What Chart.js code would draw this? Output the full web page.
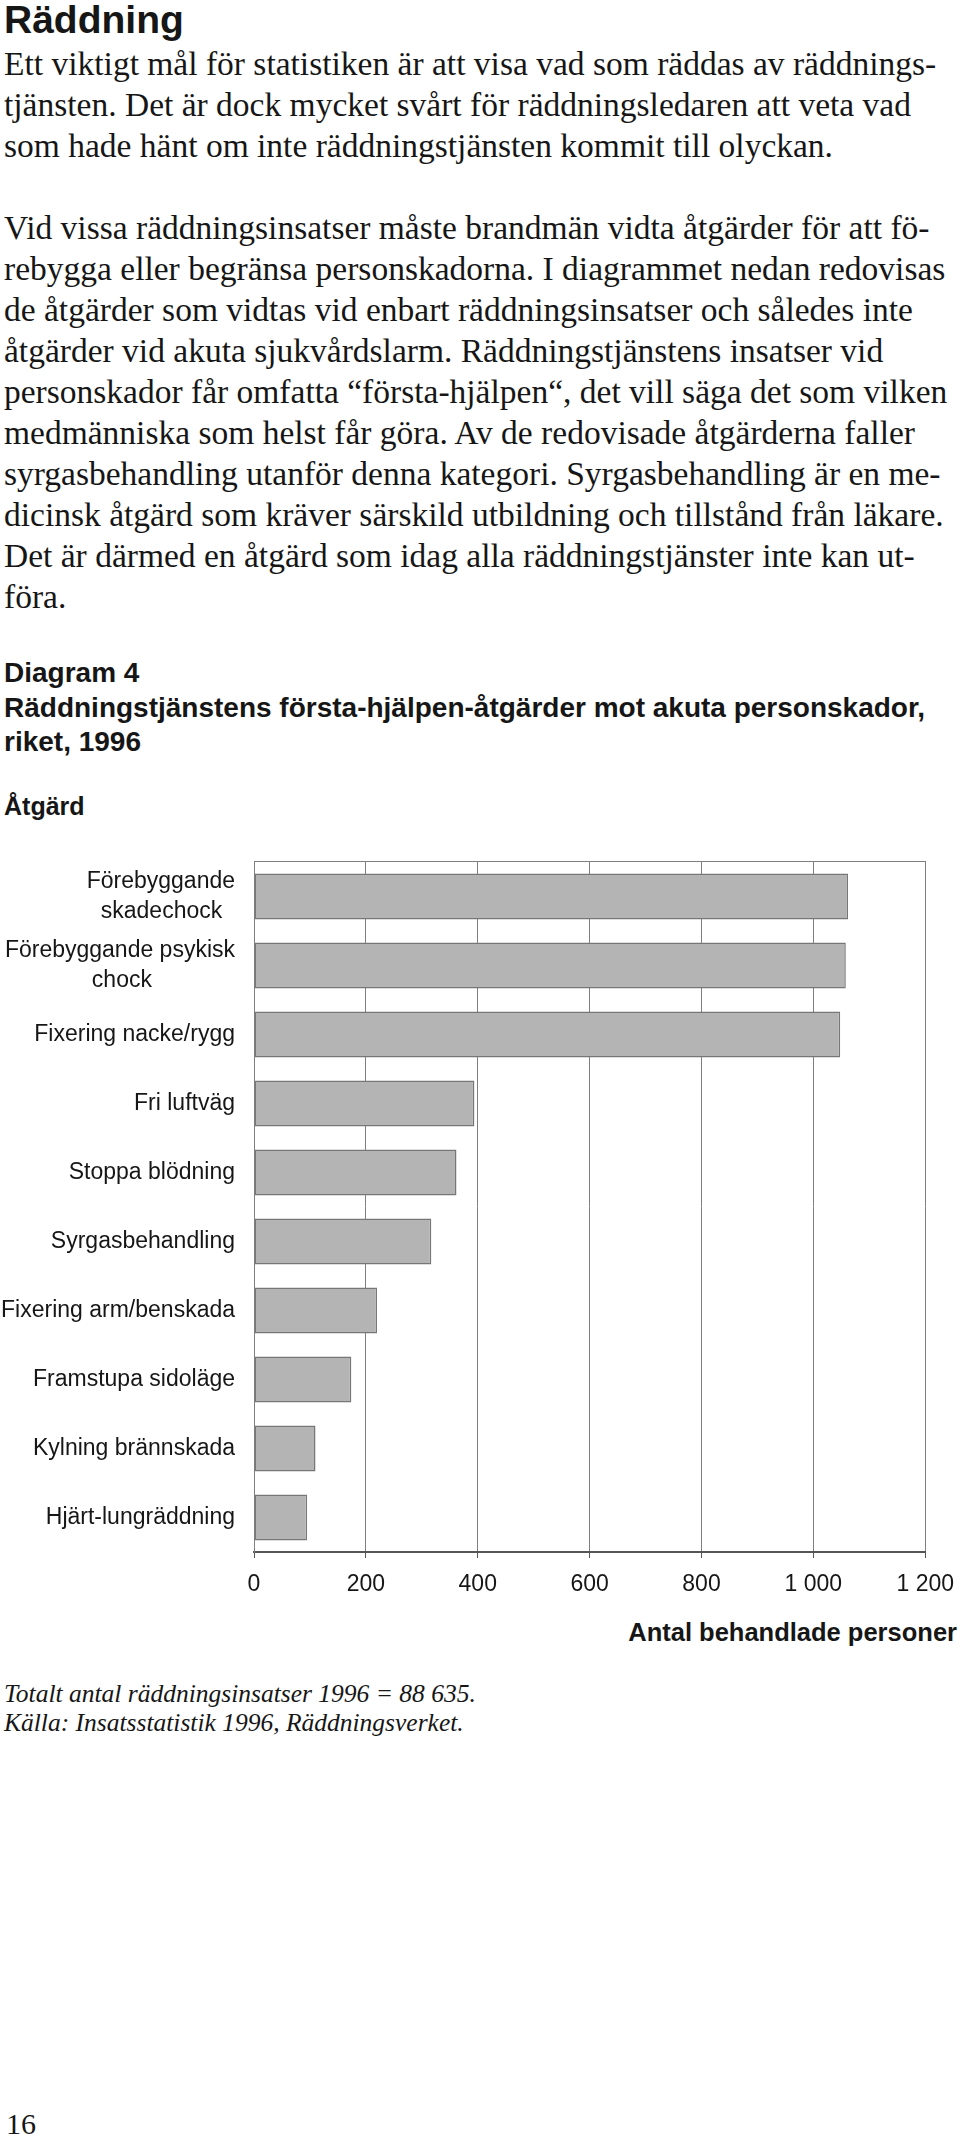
<!DOCTYPE html>
<html lang="sv">
<head>
<meta charset="utf-8">
<script src="https://cdn.jsdelivr.net/npm/chart.js@4.4.0/dist/chart.umd.min.js"></script>
<style>
  html, body { margin: 0; padding: 0; background: #fff; }
  body { width: 960px; height: 2137px; position: relative; overflow: hidden; color: #161616; }
  .sans { font-family: "Liberation Sans", Arial, sans-serif; }
  .serif { font-family: "Liberation Serif", "Times New Roman", serif; }
  #head { position: absolute; left: 4px; top: 0; font-weight: bold; font-size: 39px; line-height: 40px; }
  #text { position: absolute; left: 4px; top: 43px; font-size: 33.5px; line-height: 41px; white-space: nowrap; }
  #caption { position: absolute; left: 4px; top: 656px; font-weight: bold; font-size: 28px; line-height: 34.5px; white-space: nowrap; }
  #ylabel { position: absolute; left: 4px; top: 791px; font-weight: bold; font-size: 25px; line-height: 30px; }
  #chart { position: absolute; left: 0; top: 828px; }
  #xlabel { position: absolute; right: 3px; top: 1617px; font-weight: bold; font-size: 25.5px; line-height: 30px; }
  #notes { position: absolute; left: 4px; top: 1679px; font-style: italic; font-size: 25.5px; line-height: 29px; white-space: nowrap; }
  #page { position: absolute; left: 6px; top: 2106px; font-size: 30px; line-height: 36px; }
</style>
</head>
<body>
<div id="head" class="sans">Räddning</div>
<div id="text" class="serif">
  <div>Ett viktigt mål för statistiken är att visa vad som räddas av räddnings-</div>
  <div>tjänsten. Det är dock mycket svårt för räddningsledaren att veta vad</div>
  <div>som hade hänt om inte räddningstjänsten kommit till olyckan.</div>
  <div>&nbsp;</div>
  <div>Vid vissa räddningsinsatser måste brandmän vidta åtgärder för att fö-</div>
  <div>rebygga eller begränsa personskadorna. I diagrammet nedan redovisas</div>
  <div>de åtgärder som vidtas vid enbart räddningsinsatser och således inte</div>
  <div>åtgärder vid akuta sjukvårdslarm. Räddningstjänstens insatser vid</div>
  <div>personskador får omfatta “första-hjälpen“, det vill säga det som vilken</div>
  <div>medmänniska som helst får göra. Av de redovisade åtgärderna faller</div>
  <div>syrgasbehandling utanför denna kategori. Syrgasbehandling är en me-</div>
  <div>dicinsk åtgärd som kräver särskild utbildning och tillstånd från läkare.</div>
  <div>Det är därmed en åtgärd som idag alla räddningstjänster inte kan ut-</div>
  <div>föra.</div>
</div>
<div id="caption" class="sans">
  <div>Diagram 4</div>
  <div>Räddningstjänstens första-hjälpen-åtgärder mot akuta personskador,</div>
  <div>riket, 1996</div>
</div>
<div id="ylabel" class="sans">Åtgärd</div>
<canvas id="chart" width="966" height="774"></canvas>
<div id="xlabel" class="sans">Antal behandlade personer</div>
<div id="notes" class="serif">
  <div>Totalt antal räddningsinsatser 1996 = 88 635.</div>
  <div>Källa: Insatsstatistik 1996, Räddningsverket.</div>
</div>
<div id="page" class="serif">16</div>

<script>
// Data
const categories = [
    ['Förebyggande', 'skadechock'],
    ['Förebyggande psykisk', 'chock'],
    'Fixering nacke/rygg',
    'Fri luftväg',
    'Stoppa blödning',
    'Syrgasbehandling',
    'Fixering arm/benskada',
    'Framstupa sidoläge',
    'Kylning brännskada',
    'Hjärt-lungräddning'
];
const treatedPersons = [1062, 1058, 1048, 394, 362, 317, 220, 174, 110, 95];
const tickValues = [0, 200, 400, 600, 800, 1000, 1200];
const tickLabels = ['0', '200', '400', '600', '800', '1 000', '1 200'];

const labelFont = { family: '"Liberation Sans", Arial, sans-serif', size: 23, lineHeight: 1.3 };

// Two-line labels are centred on each other, the block itself right aligned.
// Pad the shorter line with trailing spaces so right alignment looks centred.
function centerLines(label) {
    if (!Array.isArray(label)) return label;
    const ctx = document.createElement('canvas').getContext('2d');
    ctx.font = `${labelFont.size}px ${labelFont.family}`;
    const widest = Math.max(...label.map(l => ctx.measureText(l).width));
    const space = ctx.measureText(' ').width;
    return label.map(l => {
        const n = Math.round((widest - ctx.measureText(l).width) / 2 / space);
        return l + ' '.repeat(n);
    });
}

Chart.defaults.font.family = labelFont.family;
Chart.defaults.color = '#161616';

new Chart(document.getElementById('chart'), {
    type: 'bar',
    data: {
        labels: categories.map(centerLines),
        datasets: [{
            data: treatedPersons,
            backgroundColor: '#b4b4b4',
            borderColor: '#777',
            borderWidth: 1.5,
            borderSkipped: false,
            barPercentage: 0.665,
            categoryPercentage: 1
        }]
    },
    options: {
        indexAxis: 'y',
        responsive: false,
        animation: false,
        layout: { padding: { top: 31, bottom: 0, left: 0, right: 0 } },
        plugins: { legend: { display: false }, tooltip: { enabled: false } },
        scales: {
            x: {
                min: 0,
                max: 1200,
                afterBuildTicks: axis => { axis.ticks = tickValues.map(v => ({ value: v })); },
                afterFit: axis => { axis.height = 50; },
                ticks: {
                    font: labelFont,
                    padding: 12,
                    maxRotation: 0,
                    callback: (value) => tickLabels[tickValues.indexOf(value)]
                },
                grid: { color: '#7f7f7f', lineWidth: 1, tickLength: 6, tickColor: '#555' },
                border: { display: true, color: '#555', width: 2 }
            },
            xTop: {
                position: 'top',
                min: 0,
                max: 1200,
                ticks: { display: false },
                grid: { display: false, drawTicks: false },
                border: { display: true, color: '#7f7f7f', width: 1 }
            },
            y: {
                afterFit: axis => { axis.width = 254; },
                ticks: { font: labelFont, padding: 19, crossAlign: 'near' },
                grid: { display: false, drawTicks: false },
                border: { display: true, color: '#7f7f7f', width: 1 }
            }
        }
    }
});
</script>
</body>
</html>
